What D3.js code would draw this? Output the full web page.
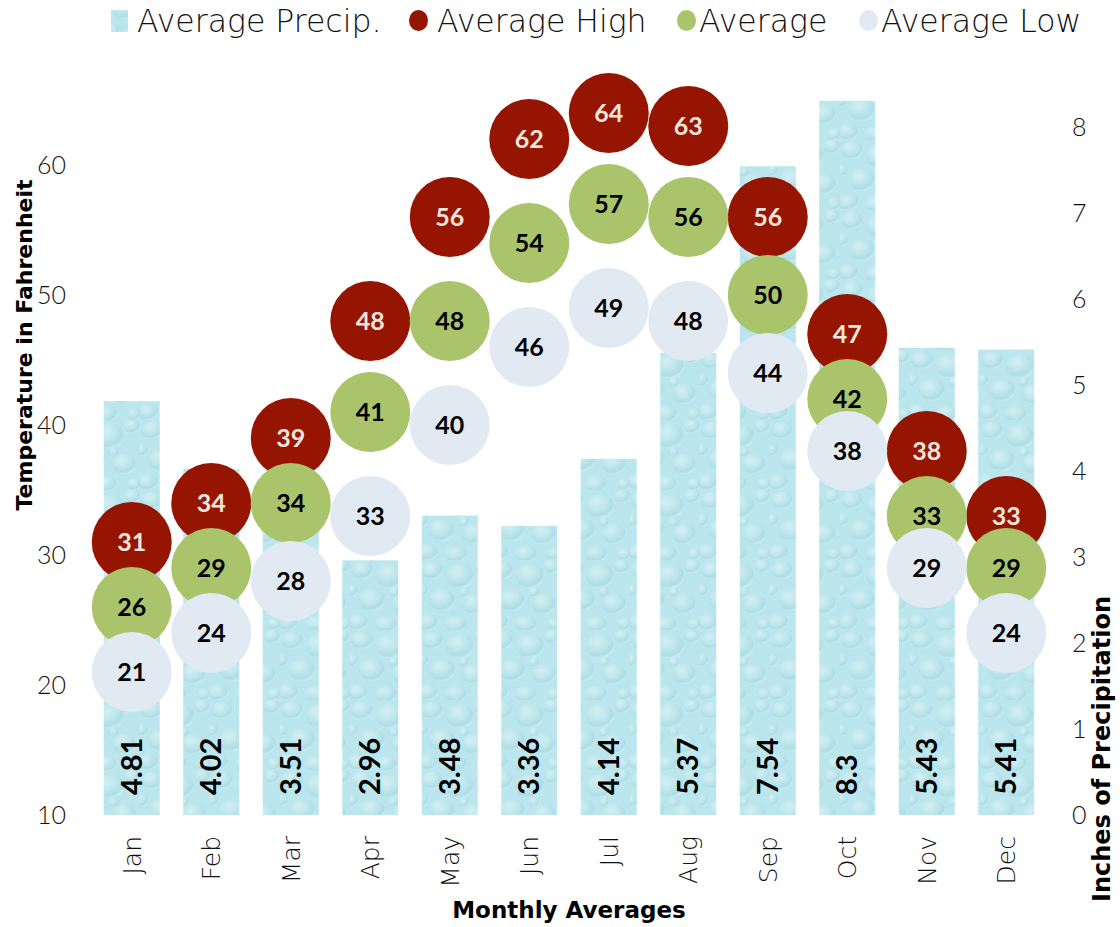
<!DOCTYPE html>
<html><head><meta charset="utf-8">
<script src="https://cdn.jsdelivr.net/npm/d3@7/dist/d3.min.js"></script>
<style>body{margin:0;background:#fff}svg{display:block}</style>
</head><body><svg id="chart" width="1120" height="927"></svg>
<script>
const months = ["Jan","Feb","Mar","Apr","May","Jun","Jul","Aug","Sep","Oct","Nov","Dec"];
const precip = [4.81,4.02,3.51,2.96,3.48,3.36,4.14,5.37,7.54,8.3,5.43,5.41];
const highs = [31,34,39,48,56,62,64,63,56,47,38,33];
const avgs = [26,29,34,41,48,54,57,56,50,42,33,29];
const lows = [21,24,28,33,40,46,49,48,44,38,29,24];
const tempTicks = [10,20,30,40,50,60];
const precipTicks = [0,1,2,3,4,5,6,7,8];
const legendLabels = ["Average Precip.","Average High","Average","Average Low"];

const NUM = "Lato, 'Open Sans', sans-serif";
const TXT = "'DejaVu Sans', sans-serif";
const svg = d3.select("#chart");
const plot = {left:92, right:1046, top:85, bottom:815};

const x = d3.scaleBand().domain(months).range([plot.left, plot.right]).paddingInner(0.295).paddingOuter(0.1475);
const yT = d3.scaleLinear().domain([10, 10 + (plot.bottom-plot.top)/13]).range([plot.bottom, plot.top]);
const yP = d3.scaleLinear().domain([0, (plot.bottom-plot.top)/86.04]).range([plot.bottom, plot.top]);

// water texture pattern
const defs = svg.append("defs");
const rg = defs.append("radialGradient").attr("id","drop").attr("cx","38%").attr("cy","32%").attr("r","70%");
rg.append("stop").attr("offset","0%").attr("stop-color","#e2f5f7");
rg.append("stop").attr("offset","50%").attr("stop-color","#c0e7ed");
rg.append("stop").attr("offset","82%").attr("stop-color","#a5d8e1");
rg.append("stop").attr("offset","100%").attr("stop-color","#d4f0f3");
const pat = defs.append("pattern").attr("id","water").attr("patternUnits","userSpaceOnUse").attr("width",70).attr("height",70);
pat.append("rect").attr("width",70).attr("height",70).attr("fill","#bce6ed");
const drops = [[12,10,11,9],[40,16,14,12],[62,6,8,7],[22,40,13,11],[54,44,12,10],[8,62,10,8],[36,64,11,8],[64,64,7,6],[2,30,6,6],[44,32,5,5]];
drops.forEach(d => pat.append("ellipse").attr("cx",d[0]).attr("cy",d[1]).attr("rx",d[2]).attr("ry",d[3]).attr("fill","url(#drop)").attr("opacity",0.6));

// bars
svg.append("g").selectAll("rect").data(months).join("rect")
  .attr("x", m => x(m)).attr("width", x.bandwidth())
  .attr("y", (m,i) => yP(precip[i])).attr("height", (m,i) => yP(0) - yP(precip[i]))
  .attr("fill","url(#water)");

// bar labels
svg.append("g").selectAll("text").data(months).join("text")
  .attr("transform", m => `translate(${x(m)+x.bandwidth()/2+10},${plot.bottom-20}) rotate(-90)`)
  .attr("font-family",NUM).attr("font-weight","bold").attr("font-size",29).attr("fill","#000")
  .text((m,i) => precip[i]);

// circles
const series = [
  {vals:highs, fill:"#951500", text:"#f3e6dc"},
  {vals:avgs, fill:"#a9c46b", text:"#000"},
  {vals:lows, fill:"#e1e9f3", text:"#000"}
];
series.forEach(s => {
  const g = svg.append("g");
  g.selectAll("circle").data(months).join("circle")
    .attr("cx", m => x(m)+x.bandwidth()/2).attr("cy",(m,i)=>yT(s.vals[i])).attr("r",40).attr("fill",s.fill);
  g.selectAll("text").data(months).join("text")
    .attr("x", m => x(m)+x.bandwidth()/2).attr("y",(m,i)=>yT(s.vals[i])+9)
    .attr("text-anchor","middle").attr("font-family",NUM).attr("font-weight","bold").attr("font-size",25)
    .attr("fill",s.text).text((m,i)=>s.vals[i]);
});

// left axis
const axL = svg.append("g").attr("transform",`translate(${plot.left-22},0)`)
  .call(d3.axisLeft(yT).tickValues(tempTicks).tickSize(0).tickPadding(4));
axL.select(".domain").remove();
axL.selectAll("text").attr("font-family",NUM).attr("font-weight",300).attr("font-size",25).attr("fill","#111").attr("dy","0.35em");

// right axis
const axR = svg.append("g").attr("transform",`translate(${plot.right+22},0)`)
  .call(d3.axisRight(yP).tickValues(precipTicks).tickSize(0).tickPadding(4));
axR.select(".domain").remove();
axR.selectAll("text").attr("font-family",NUM).attr("font-weight",300).attr("font-size",25).attr("fill","#111").attr("dy","0.35em");

// bottom axis
const axB = svg.append("g").attr("transform",`translate(0,${plot.bottom})`)
  .call(d3.axisBottom(x).tickSize(0));
axB.select(".domain").remove();
axB.selectAll("text").attr("font-family",TXT).attr("font-weight",200).attr("font-size",25).attr("fill","#111")
  .attr("transform","rotate(-90)").attr("text-anchor","end").attr("x",-21).attr("y",0).attr("dy","0.35em");

// axis titles
svg.append("text").attr("transform","translate(32,345) rotate(-90)").attr("text-anchor","middle")
  .attr("font-family",TXT).attr("font-weight","bold").attr("font-size",22).text("Temperature in Fahrenheit");
svg.append("text").attr("transform","translate(1110,749) rotate(-90)").attr("text-anchor","middle")
  .attr("font-family",TXT).attr("font-weight","bold").attr("font-size",24).text("Inches of Precipitation");
svg.append("text").attr("x",569).attr("y",918).attr("text-anchor","middle")
  .attr("font-family",TXT).attr("font-weight","bold").attr("font-size",23).text("Monthly Averages");

// legend
const legX = [111, 409, 677, 859];
const lg = svg.append("g");
legendLabels.forEach((t,i) => {
  const g = lg.append("g").attr("transform",`translate(${legX[i]},0)`);
  if (i===0) g.append("rect").attr("x",0).attr("y",10).attr("width",17).attr("height",22).attr("fill","url(#water)");
  else g.append("ellipse").attr("cx",9.5).attr("cy",20.5).attr("rx",9.5).attr("ry",10.5).attr("fill",series[i-1].fill);
  g.append("text").attr("x",i===0?26:(i===1?28:22)).attr("y",32).attr("font-family",TXT).attr("font-weight",200).attr("font-size",31.5).attr("fill","#111").text(t);
});
</script></body></html>
